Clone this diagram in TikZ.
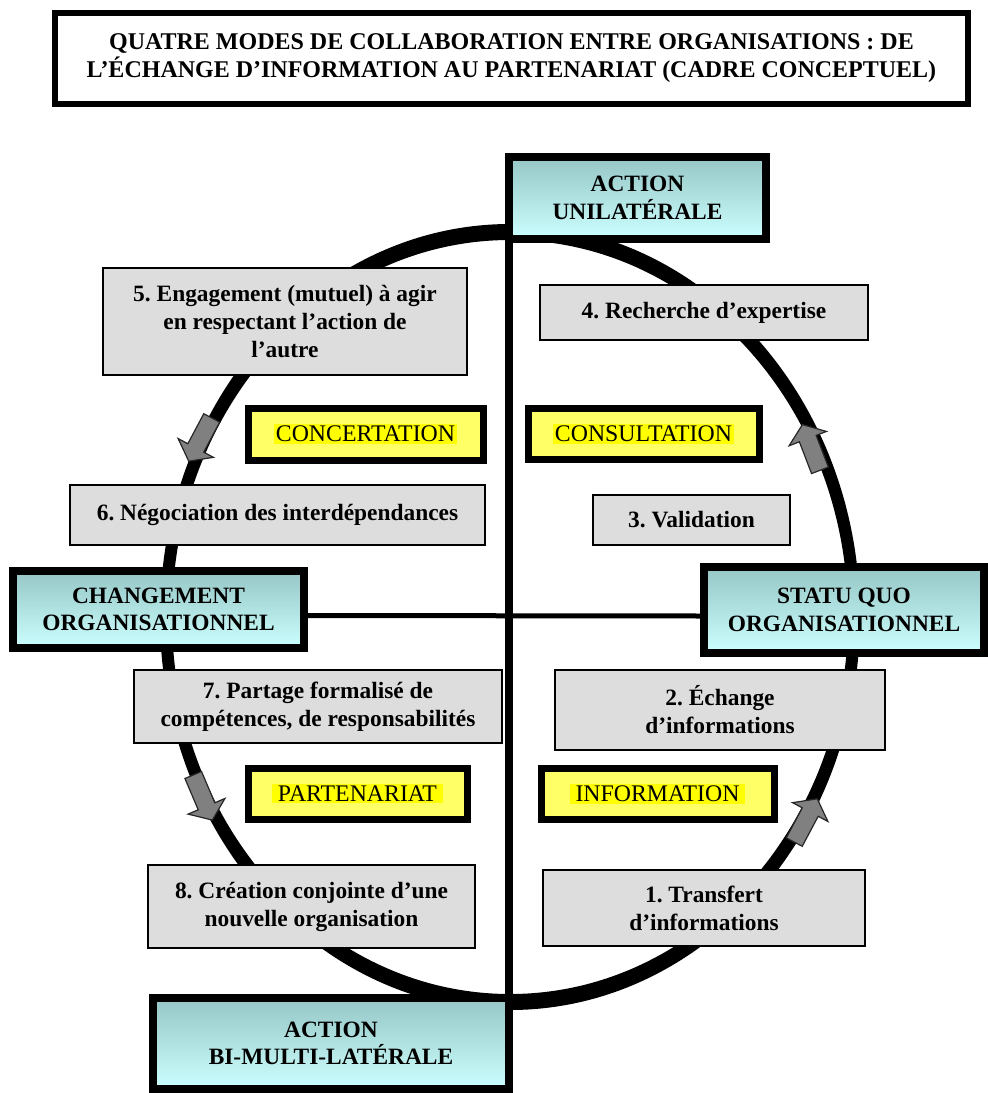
\documentclass[tikz,border=0pt]{standalone}
\usepackage{fontspec}
\setmainfont{Liberation Serif}
\usepackage{tikz}
\usetikzlibrary{positioning}
\definecolor{poletop}{HTML}{96C6C6}
\definecolor{polebot}{HTML}{CCFFFF}
\definecolor{etapefill}{HTML}{DDDDDD}
\definecolor{modefill}{HTML}{FFFF66}
\definecolor{modehl}{HTML}{FFFF00}
\definecolor{flechefill}{HTML}{808080}
\newcommand{\surligne}[1]{{\setlength{\fboxsep}{1pt}\colorbox{modehl}{#1}}}
\frenchspacing

\begin{document}
\begin{tikzpicture}[x=0.5pt,y=-0.5pt,
  titre/.style={draw,line width=3pt,align=center,inner sep=0pt,
    font=\bfseries\fontsize{12}{14}\selectfont},
  pole/.style={draw,line width=4pt,top color=poletop,bottom color=polebot,align=center,
    inner sep=0pt,outer sep=0pt,font=\bfseries\fontsize{11.7}{13.8}\selectfont},
  etape/.style={draw,line width=0.75pt,fill=etapefill,align=center,inner sep=0pt,
    font=\bfseries\fontsize{11.7}{14}\selectfont},
  mode/.style={draw,line width=3.5pt,fill=modefill,inner sep=0pt,
    font=\fontsize{11.9}{14}\selectfont},
  axe/.style={line width=4pt},
  fleche/.style={draw=black!85,line width=0.6pt,fill=flechefill}]
  \useasboundingbox (0,0) rectangle (988,1093);

  % title
  \node[titre,minimum width=456.5pt,minimum height=45.5pt] (titre) at (511.5,58.5)
    {QUATRE MODES DE COLLABORATION ENTRE ORGANISATIONS : DE\\
     L’ÉCHANGE D’INFORMATION AU PARTENARIAT (CADRE CONCEPTUEL)};

  % the ring
  \fill[even odd rule] (510,617) ellipse [x radius=350, y radius=393]
                       (510,617) ellipse [x radius=338, y radius=377];

  % steps
  \node[etape,minimum width=182pt,minimum height=53.5pt] (e5) at (285,321.5)
    {5. Engagement (mutuel) à agir\\en respectant l’action de\\l’autre};
  \node[etape,minimum width=164pt,minimum height=27.5pt] (e4) at (704,312.5)
    {4. Recherche d’expertise};
  \node[etape,minimum width=207.5pt,minimum height=30pt] (e6) at (277.5,515)
    {6. Négociation des interdépendances};
  \node[etape,minimum width=98.5pt,minimum height=25pt] (e3) at (691.5,520)
    {3. Validation};
  \node[etape,minimum width=184pt,minimum height=36.5pt] (e7) at (318,706.5)
    {7. Partage formalisé de\\compétences, de responsabilités};
  \node[etape,minimum width=165pt,minimum height=40pt] (e2) at (720,710)
    {2. Échange\\d’informations};
  \node[etape,minimum width=163.5pt,minimum height=41.5pt] (e8) at (311.5,906.5)
    {8. Création conjointe d’une\\nouvelle organisation};
  \node[etape,minimum width=161pt,minimum height=38pt] (e1) at (704,908)
    {1. Transfert\\d’informations};

  % modes
  \node[mode,minimum width=117.5pt,minimum height=26pt] (concertation) at (365.5,434)
    {\surligne{CONCERTATION}};
  \node[mode,minimum width=115.5pt,minimum height=25.5pt] (consultation) at (643.5,433.5)
    {\surligne{CONSULTATION}};
  \node[mode,minimum width=109.5pt,minimum height=25.5pt] (partenariat) at (357.5,793.5)
    {\surligne{\,PARTENARIAT\,}};
  \node[mode,minimum width=116.5pt,minimum height=25.5pt] (information) at (657.5,793.5)
    {\surligne{\,INFORMATION\,}};

  % poles
  \node[pole,minimum width=128.5pt,minimum height=41pt] (unilat) at (637.5,198)
    {ACTION\\UNILATÉRALE};
  \node[pole,minimum width=145.5pt,minimum height=38.5pt] (changement) at (158.5,609.5)
    {CHANGEMENT\\ORGANISATIONNEL};
  \node[pole,minimum width=140pt,minimum height=43pt] (statuquo) at (844,610)
    {STATU QUO\\ORGANISATIONNEL};
  \node[pole,minimum width=178pt,minimum height=45.5pt] (bimulti) at (331,1043.5)
    {ACTION\\BI-MULTI-LATÉRALE};

  % axes
  \draw[axe] (unilat.south west) -- (bimulti.north east);
  \draw[axe,line width=2.5pt] ([yshift=-3pt]changement.east) -- ([yshift=-3pt]statuquo.west);

  % arrows on the ring
  \foreach \x/\y/\a in {200/440/242, 811/447/111, 203/798/-67, 806/820/62}
    \draw[fleche,shift={(\x,\y)},rotate=\a]
      (-25,-9) -- (9,-9) -- (9,-20) -- (24,0) -- (9,20) -- (9,9) -- (-25,9) -- cycle;
\end{tikzpicture}
\end{document}
